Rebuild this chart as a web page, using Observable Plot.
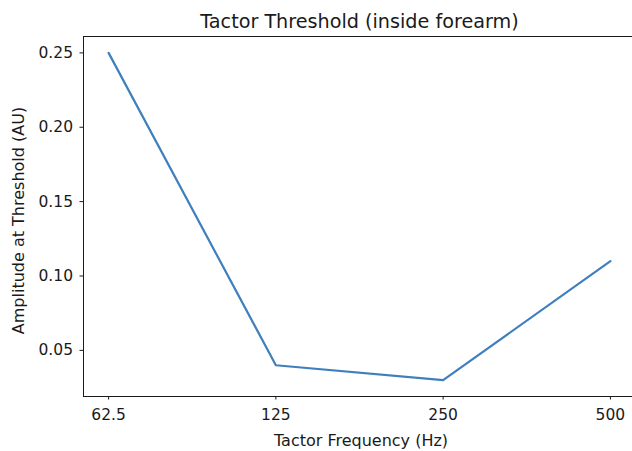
<!DOCTYPE html>
<html>
<head>
<meta charset="utf-8">
<script src="https://cdn.jsdelivr.net/npm/d3@7"></script>
<script src="https://cdn.jsdelivr.net/npm/@observablehq/plot@0.6"></script>
<style>
  html, body { margin: 0; padding: 0; background: #fff; overflow: hidden; }
  #chart svg { overflow: hidden; }
</style>
</head>
<body>
<div id="chart"></div>
<script>
const frequencies = [62.5, 125, 250, 500];
const frequencyLabels = ["62.5", "125", "250", "500"];
const thresholds = [0.25, 0.04, 0.03, 0.11];
const yTicks = [0.05, 0.10, 0.15, 0.20, 0.25];
const titleText = "Tactor Threshold (inside forearm)";
const xLabelText = "Tactor Frequency (Hz)";
const yLabelText = "Amplitude at Threshold (AU)";

const data = frequencies.map((f, i) => ({freq: f, threshold: thresholds[i]}));
const pad = 2 ** 0.15;
const yMin = d3.min(thresholds), yMax = d3.max(thresholds);
const yPad = (yMax - yMin) * 0.05;

const font = "DejaVu Sans, sans-serif";
const ink = "#1a1a1a";

const chart = Plot.plot({
  width: 632,
  height: 451,
  marginLeft: 83,
  marginRight: -3,
  marginTop: 36,
  marginBottom: 55,
  style: {fontFamily: font, color: ink, background: "#fff"},
  x: {type: "log", base: 2, domain: [frequencies[0] / pad, frequencies[frequencies.length - 1] * pad]},
  y: {domain: [yMin - yPad, yMax + yPad]},
  marks: [
    Plot.frame({stroke: ink, strokeWidth: 1}),
    Plot.axisX({
      ticks: frequencies,
      tickFormat: (d) => frequencyLabels[frequencies.indexOf(d)],
      tickSize: 3.5,
      tickPadding: 9,
      fontSize: 15.5,
      label: null,
      stroke: ink
    }),
    Plot.axisY({
      ticks: yTicks,
      tickFormat: d3.format(".2f"),
      tickSize: 3.5,
      tickPadding: 7,
      fontSize: 15.5,
      label: null,
      stroke: ink
    }),
    Plot.line(data, {x: "freq", y: "threshold", stroke: "#3f7fbd", strokeWidth: 2.2}),
    Plot.text([titleText], {frameAnchor: "top", lineAnchor: "middle", dy: -15, dx: 0, fontSize: 19.2, fill: ink}),
    Plot.text([xLabelText], {frameAnchor: "bottom", lineAnchor: "middle", dy: 44, dx: 1.5, fontSize: 16, fill: ink}),
    Plot.text([yLabelText], {frameAnchor: "left", textAnchor: "middle", lineAnchor: "middle", rotate: -90, dx: -65, dy: 4, fontSize: 16, fill: ink})
  ]
});
document.getElementById("chart").appendChild(chart);
</script>
</body>
</html>
